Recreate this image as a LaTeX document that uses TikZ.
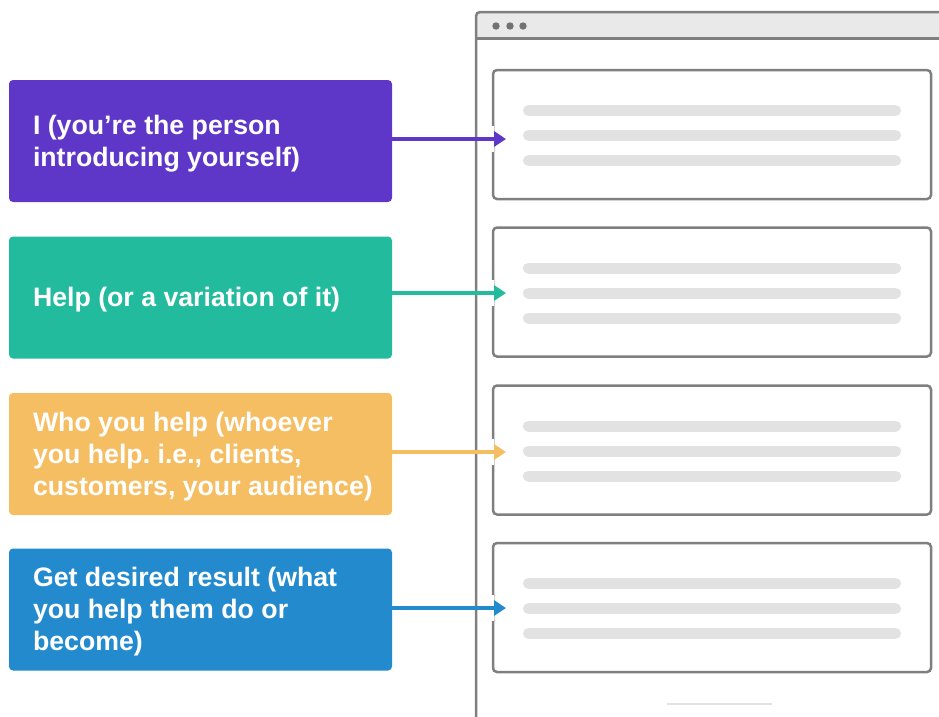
\documentclass[tikz,border=0pt]{standalone}
\usepackage{fontspec}
\setmainfont{Liberation Sans}
\usetikzlibrary{arrows.meta,calc}
\frenchspacing

\definecolor{cardpurple}{HTML}{5F37C8}
\definecolor{cardteal}{HTML}{22BB9D}
\definecolor{cardorange}{HTML}{F6BE62}
\definecolor{cardblue}{HTML}{238BCD}
\definecolor{frame}{HTML}{7F7F7F}
\definecolor{barfill}{HTML}{E9E9E9}
\definecolor{placeholder}{HTML}{E2E2E2}

\tikzset{
  cardbox/.style={rectangle, rounded corners=4pt, minimum width=383pt,
    minimum height=122pt, inner sep=0pt, draw=none},
  cardtext/.style={anchor=west, align=left, text=white, inner sep=0pt,
    font=\fontsize{26.7}{32}\selectfont\bfseries},
  panel/.style={rectangle, rounded corners=4pt, draw=frame, line width=2.5pt,
    fill=white, minimum width=438pt, minimum height=129pt, inner sep=0pt},
  textline/.style={placeholder, line width=11pt, line cap=round},
  pointer/.style={line width=3.5pt, -{Triangle[length=12pt,width=15pt]}},
}

\begin{document}
\begin{tikzpicture}[x=1pt, y=-1pt]
  \useasboundingbox (0,0) rectangle (939,716);

  % browser window
  \fill[barfill, rounded corners=4pt] (476,12) rectangle (960,39);
  \draw[frame, line width=2.5pt, rounded corners=4pt] (476,730) -- (476,12) -- (960,12);
  \draw[frame, line width=2.5pt] (476,38.5) -- (960,38.5);
  \foreach \dx in {496,510,523} \fill[frame!90!black] (\dx,26) circle (3.7pt);
  \draw[placeholder, line width=2.5pt] (667,704) -- (772,704);

  % content panels inside the browser
  \node[panel] (w1) at (712,134.5) {};
  \node[panel] (w2) at (712,292) {};
  \node[panel] (w3) at (712,450) {};
  \node[panel] (w4) at (712,607.5) {};
  \foreach \w in {w1,w2,w3,w4} {
    \foreach \dy in {-24,1,26}
      \draw[textline] ($(\w.center)+(-183.5,\dy)$) -- ($(\w.center)+(183.5,\dy)$);
  }

  % coloured cards
  \node[cardbox, fill=cardpurple] (c1) at (200.5,141) {};
  \node[cardbox, fill=cardteal]   (c2) at (200.5,297.5) {};
  \node[cardbox, fill=cardorange] (c3) at (200.5,454) {};
  \node[cardbox, fill=cardblue]   (c4) at (200.5,609.5) {};

  \node[cardtext] (t1) at ($(c1.west)+(24,2.5)$) {I (you’re the person\\introducing yourself)};
  \node[cardtext] (t2) at ($(c2.west)+(24,2.5)$) {Help (or a variation of it)};
  \node[cardtext] (t3) at ($(c3.west)+(24,2.5)$) {Who you help (whoever\\you help. i.e., clients,\\customers, your audience)};
  \node[cardtext] (t4) at ($(c4.west)+(24,2.5)$) {Get desired result (what\\you help them do or\\become)};

  % arrow tips on the panels
  \coordinate (p1) at (506,139);
  \coordinate (p2) at (506,293);
  \coordinate (p3) at (506,452);
  \coordinate (p4) at (506,608);

  \foreach \i/\col in {1/cardpurple,2/cardteal,3/cardorange,4/cardblue} {
    \draw[white, line width=4pt] ($(w\i.west|-p\i)+(0,-13)$) -- ($(w\i.west|-p\i)+(0,13)$);
    \draw[pointer, \col] (c\i.east|-p\i) -- (p\i);
  }
\end{tikzpicture}
\end{document}
